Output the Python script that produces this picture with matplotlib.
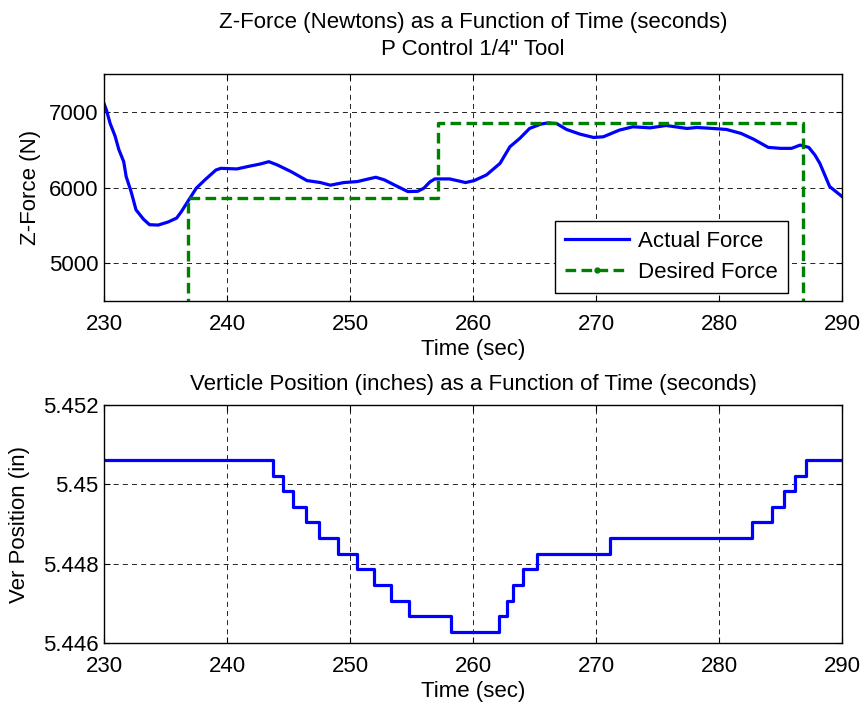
import numpy as np
import matplotlib
matplotlib.use("Agg")
import matplotlib.pyplot as plt
from matplotlib.lines import Line2D

plt.rcParams['font.family'] = ['Liberation Sans', 'DejaVu Sans']

# Actual Z-force (time in s, force in N)
force_t = [230.0, 230.2, 230.5, 230.9, 231.2, 231.6, 231.8, 232.2, 232.6, 233.2,
           233.7, 234.4, 235.2, 235.9, 236.3, 236.9, 237.5, 238.2, 239.1, 239.5,
           240.8, 241.9, 242.7, 243.4, 244.1, 245.2, 246.5, 247.6, 248.4, 249.5,
           250.6, 251.4, 252.1, 252.8, 253.6, 254.7, 255.5, 256.0, 256.5, 256.9,
           258.1, 259.4, 260.1, 261.1, 262.2, 263.0, 263.8, 264.6, 265.5, 266.1,
           266.8, 267.6, 268.7, 269.8, 270.6, 271.9, 273.0, 274.4, 275.7, 277.4,
           278.2, 279.5, 280.6, 281.8, 282.8, 284.0, 285.0, 285.9, 286.6, 287.3,
           287.8, 288.2, 288.6, 289.0, 290.0]
force_n = [7110, 7022, 6846, 6680, 6504, 6342, 6145, 5947, 5706, 5583,
           5509, 5504, 5544, 5596, 5684, 5838, 5991, 6101, 6232, 6254,
           6246, 6285, 6311, 6342, 6298, 6211, 6092, 6066, 6031, 6066,
           6079, 6110, 6136, 6101, 6035, 5947, 5950, 5991, 6075, 6114,
           6114, 6066, 6092, 6167, 6320, 6539, 6649, 6781, 6838, 6855,
           6846, 6768, 6706, 6662, 6671, 6759, 6803, 6789, 6820, 6781,
           6794, 6781, 6768, 6715, 6640, 6531, 6518, 6518, 6561, 6531,
           6430, 6320, 6167, 6013, 5882]

# Desired force set-points
desired_t = [230.0, 236.86, 236.86, 257.13, 257.13, 286.86, 286.86, 290.0]
desired_n = [0, 0, 5860, 5860, 6850, 6850, 0, 0]

# Vertical position: step levels and the times where they change
pos_t = [230.0, 243.76, 244.58, 245.39, 246.42, 247.50, 249.05, 250.59, 251.93,
         253.31, 254.80, 258.19, 262.14, 262.74, 263.28, 264.04, 265.18, 271.14,
         282.66, 284.28, 285.31, 286.18, 287.05, 290.0]
pos_in = [5.45061, 5.45022, 5.44983, 5.44943, 5.44904, 5.44865, 5.44825, 5.44786,
          5.44747, 5.44707, 5.44668, 5.44629, 5.44668, 5.44707, 5.44747, 5.44786,
          5.44825, 5.44865, 5.44904, 5.44943, 5.44983, 5.45022, 5.45061, 5.45061]

fs = 16
fig = plt.figure(figsize=(8.64, 7.04), dpi=100)
ax1 = fig.add_axes([0.1204, 0.5724, 0.8541, 0.3224])
ax2 = fig.add_axes([0.1204, 0.0866, 0.8541, 0.3381])


def style(ax):
    ax.grid(True, color='black', linestyle=(0, (6, 5)), linewidth=0.6)
    ax.tick_params(direction='in', top=True, right=True, length=4,
                   labelsize=fs)
    ax.tick_params(axis='x', pad=9)
    ax.tick_params(axis='y', pad=4)
    for s in ax.spines.values():
        s.set_linewidth(1.0)
    ax.set_xlim(230, 290)
    ax.set_xticks([230, 240, 250, 260, 270, 280, 290])
    ax.set_xlabel('Time (sec)', fontsize=fs, labelpad=3)


ax1.plot(force_t, force_n, color=(0, 0, 1), lw=2.3)
ax1.plot(desired_t, desired_n, color=(0, 0.5, 0), lw=2.4,
         linestyle=(0, (3.2, 1.6)))
ax1.set_ylim(4500, 7500)
ax1.set_yticks([5000, 6000, 7000])
style(ax1)
ax1.set_ylabel('Z-Force (N)', fontsize=fs, labelpad=6)
ax1.set_title('Z-Force (Newtons) as a Function of Time (seconds)\nP Control 1/4" Tool',
              fontsize=fs, pad=13.5, linespacing=1.4)

handles = [Line2D([], [], color=(0, 0, 1), lw=2.3),
           Line2D([], [], color=(0, 0.5, 0), lw=2.4, linestyle=(0, (3.2, 1.6)),
                  marker='.', markersize=7)]
leg = ax1.legend(handles, ['Actual Force', 'Desired Force'], loc='lower right',
                 bbox_to_anchor=(0.927, 0.035), borderaxespad=0, fontsize=fs,
                 fancybox=False, framealpha=1, edgecolor='black',
                 handlelength=2.9, handletextpad=0.4, borderpad=0.45,
                 labelspacing=0.45)
leg.get_frame().set_linewidth(1.0)

ax2.plot(pos_t, pos_in, color=(0, 0, 1), lw=2.3, drawstyle='steps-post')
ax2.set_ylim(5.446, 5.452)
ax2.set_yticks([5.446, 5.448, 5.45, 5.452])
ax2.set_yticklabels(['5.446', '5.448', '5.45', '5.452'])
style(ax2)
ax2.set_ylabel('Ver Position (in)', fontsize=fs, labelpad=9)
ax2.set_title('Verticle Position (inches) as a Function of Time (seconds)',
              fontsize=fs, pad=10.5)

fig.savefig('out.png', dpi=100)
